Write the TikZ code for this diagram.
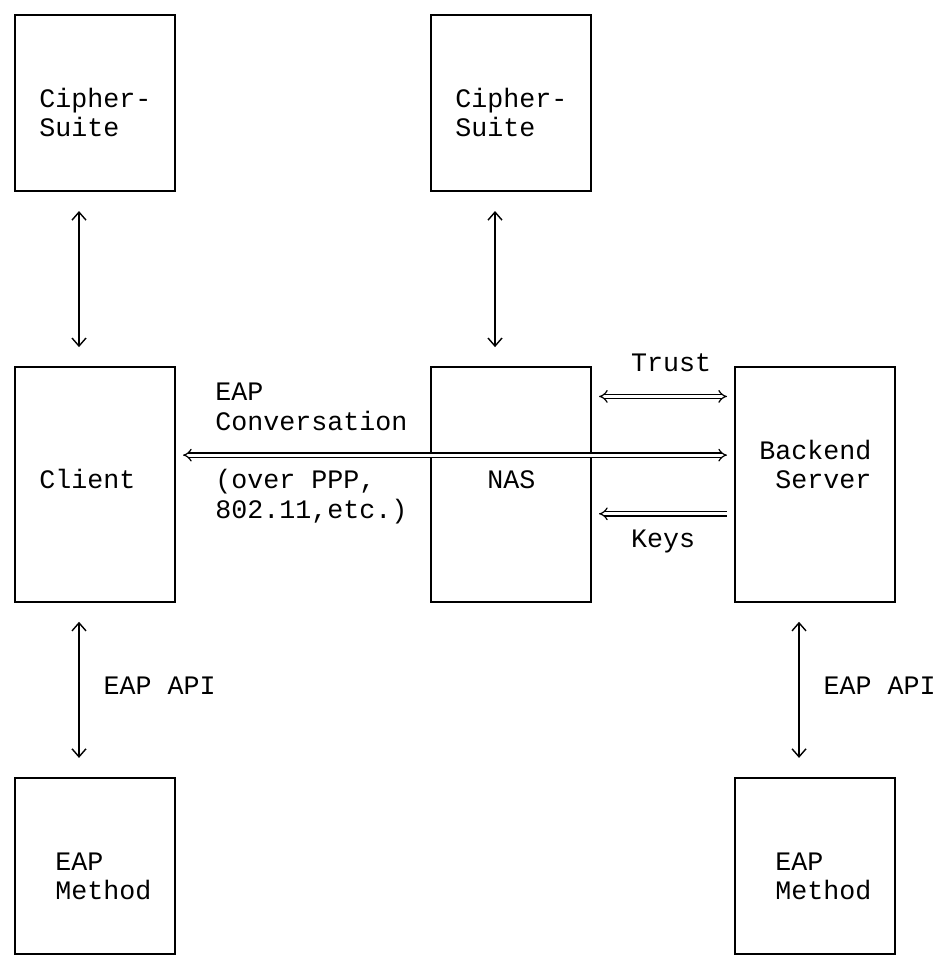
\documentclass[tikz,border=0pt]{standalone}
\usepackage{fontspec}
\newfontfamily\asciifont{Liberation Mono}
\usetikzlibrary{arrows.meta,positioning}

\begin{document}
\begin{tikzpicture}[
    x=8pt, y=-14.67pt,
    every node/.style={font=\asciifont\fontsize{13.33}{14.67}\selectfont},
    smallbox/.style={rectangle, draw, line width=0.7pt, inner sep=0pt, outer sep=0pt, minimum width=80pt, minimum height=88.02pt},
    bigbox/.style={smallbox, minimum height=117.36pt},
    lbl/.style={inner sep=0pt, anchor=mid west},
    apiarrow/.style={line width=0.7pt, >={Straight Barb[length=4pt,width=7pt]}, <->, shorten <=10pt, shorten >=10pt},
    eqarrow/.style={double, line width=0.6pt, double distance=1.6pt, >={Implies[scale=1.5]}, shorten <=4pt, shorten >=4pt}
]
\useasboundingbox (-0.9375,-0.5112) rectangle (57.5625,32.31);

% boxes
\node[smallbox] (suite1) at (5,3) {};
\node[bigbox, below=88.02pt of suite1] (client) {};
\node[bigbox, right=128pt of client] (nas) {};
\node[smallbox, above=88.02pt of nas] (suite2) {};
\node[bigbox, right=72pt of nas] (backend) {};
\node[smallbox, below=88.02pt of client] (method1) {};
\node[smallbox, below=88.02pt of backend] (method2) {};

% box texts
\node[lbl] (suite1a) at (1.5,3) {Cipher-};
\node[lbl] (suite1b) at (1.5,4) {Suite};
\node[lbl] (suite2a) at (27.5,3) {Cipher-};
\node[lbl] (suite2b) at (27.5,4) {Suite};
\node[lbl] (clientlbl) at (1.5,16) {Client};
\node[lbl] (naslbl) at (29.5,16) {NAS};
\node[lbl] (backend1) at (46.5,15) {Backend};
\node[lbl] (backend2) at (47.5,16) {Server};
\node[lbl] (method1a) at (2.5,29) {EAP};
\node[lbl] (method1b) at (2.5,30) {Method};
\node[lbl] (method2a) at (47.5,29) {EAP};
\node[lbl] (method2b) at (47.5,30) {Method};

% conversation labels
\node[lbl] (conv1) at (12.5,13) {EAP};
\node[lbl] (conv2) at (12.5,14) {Conversation};
\node[lbl] (conv3) at (12.5,16) {(over PPP,};
\node[lbl] (conv4) at (12.5,17) {802.11,etc.)};

% connectors
\draw[apiarrow] ([xshift=-8pt]suite1.south) -- ([xshift=-8pt]client.north);
\draw[apiarrow] ([xshift=-8pt]suite2.south) -- ([xshift=-8pt]nas.north);
\draw[apiarrow] ([xshift=-8pt]client.south) -- node[lbl, xshift=12pt] (api1) {EAP API} ([xshift=-8pt]method1.north);
\draw[apiarrow] ([xshift=-8pt]backend.south) -- node[lbl, xshift=12pt] (api2) {EAP API} ([xshift=-8pt]method2.north);

\draw[eqarrow, <->] ([yshift=14.67pt]client.east) -- ([yshift=14.67pt]backend.west);
\draw[eqarrow, <->] ([yshift=44.01pt]nas.east) -- node[inner sep=0pt, anchor=mid, yshift=14.67pt, xshift=4pt] (trust) {Trust} ([yshift=44.01pt]backend.west);
\draw[eqarrow, <-] ([yshift=-14.67pt]nas.east) -- node[inner sep=0pt, anchor=mid, yshift=-14.67pt] (keys) {Keys} ([yshift=-14.67pt]backend.west);

\end{tikzpicture}
\end{document}
